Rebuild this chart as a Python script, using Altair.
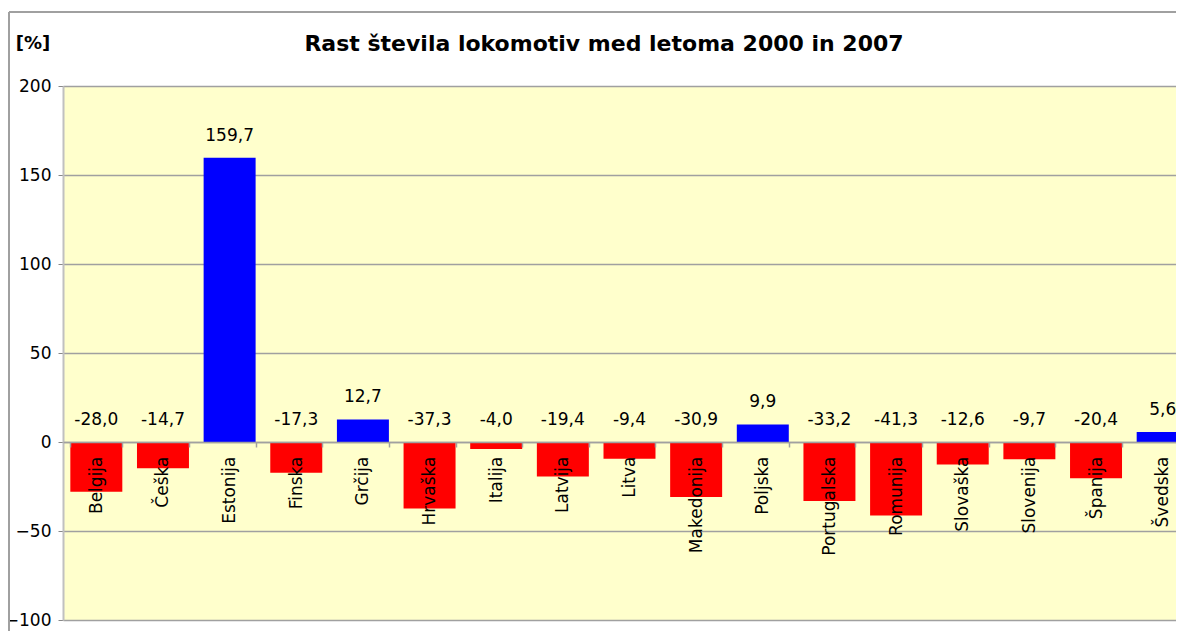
import altair as alt
import pandas as pd

countries = ["Belgija", "Češka", "Estonija", "Finska", "Grčija", "Hrvaška", "Italija",
             "Latvija", "Litva", "Makedonija", "Poljska", "Portugalska", "Romunija",
             "Slovaška", "Slovenija", "Španija", "Švedska"]
growth = [-28.0, -14.7, 159.7, -17.3, 12.7, -37.3, -4.0, -19.4, -9.4, -30.9, 9.9,
          -33.2, -41.3, -12.6, -9.7, -20.4, 5.6]
y_ticks = [-100, -50, 0, 50, 100, 150, 200]
title_text = "Rast števila lokomotiv med letoma 2000 in 2007"
unit_text = "[%]"

df = pd.DataFrame({"country": countries, "value": growth})
df["label"] = df["value"].map(lambda v: f"{v:.1f}".replace(".", ","))
df["sign"] = df["value"].map(lambda v: "pos" if v >= 0 else "neg")
df["labelpos"] = df["value"].clip(lower=0)

FONT = "DejaVu Sans"
W, H = 1113, 534

xscale = alt.Scale(domain=countries, range=[0, 1133], paddingInner=0.22, paddingOuter=0.11)
yscale = alt.Scale(domain=[-100, 200], nice=False, zero=False)

base = alt.Chart(df)

bars = base.mark_bar().encode(
    x=alt.X("country:N", sort=countries, scale=xscale,
            axis=alt.Axis(title=None, orient="bottom", offset=-178, labelAngle=-90,
                          labelFont=FONT, labelFontSize=17, labelColor="#000000",
                          labelPadding=9, tickBand="extent", tickSize=5,
                          tickColor="#a0a0a0", tickWidth=1.5, domainColor="#a0a0a0",
                          domainWidth=1.5, zindex=2, labelOverlap=False)),
    y=alt.Y("value:Q", scale=yscale,
            axis=alt.Axis(values=y_ticks, title=None,
                          labelFont=FONT, labelFontSize=17, labelColor="#000000",
                          labelPadding=7, tickSize=5, tickColor="#888888",
                          domainColor="#c0c0c0", domainWidth=2, grid=True,
                          gridColor="#a0a0a0", gridWidth=1.5, zindex=0)),
    color=alt.Color("sign:N", scale=alt.Scale(domain=["pos", "neg"], range=["#0000FF", "#FF0000"]),
                    legend=None),
)

labels = base.mark_text(font=FONT, fontSize=17, color="#000000", baseline="middle",
                        align="center", dy=-22).encode(
    x=alt.X("country:N", sort=countries, scale=xscale),
    y=alt.Y("labelpos:Q", scale=yscale),
    text="label:N",
)

txt_df = pd.DataFrame({"t": [title_text], "u": [unit_text]})
title = alt.Chart(txt_df).mark_text(font=FONT, fontSize=22, fontWeight="bold", color="#000000",
                                    align="center", baseline="middle").encode(
    x=alt.value(541), y=alt.value(-42), text="t:N")
unit = alt.Chart(txt_df).mark_text(font=FONT, fontSize=18, fontWeight="bold", color="#000000",
                                   align="center", baseline="middle").encode(
    x=alt.value(-30), y=alt.value(-42), text="u:N")

frame_df = pd.DataFrame({"k": [0]})
frame_left = alt.Chart(frame_df).mark_rule(color="#a0a0a0", strokeWidth=2).encode(
    x=alt.value(-54), y=alt.value(-74), y2=alt.value(H + 11))
frame_top = alt.Chart(frame_df).mark_rule(color="#a0a0a0", strokeWidth=2).encode(
    x=alt.value(-54), x2=alt.value(W), y=alt.value(-74))

chart = alt.layer(bars, labels, title, unit, frame_left, frame_top).properties(
    width=W, height=H,
    autosize=alt.AutoSizeParams(type="none"),
    padding={"left": 55, "top": 78, "right": 0, "bottom": 11},
).configure(background="#FFFFFF").configure_view(fill="#FFFFCC", stroke="transparent")

chart.save("out.html", embed_options={"renderer": "svg", "actions": False})
